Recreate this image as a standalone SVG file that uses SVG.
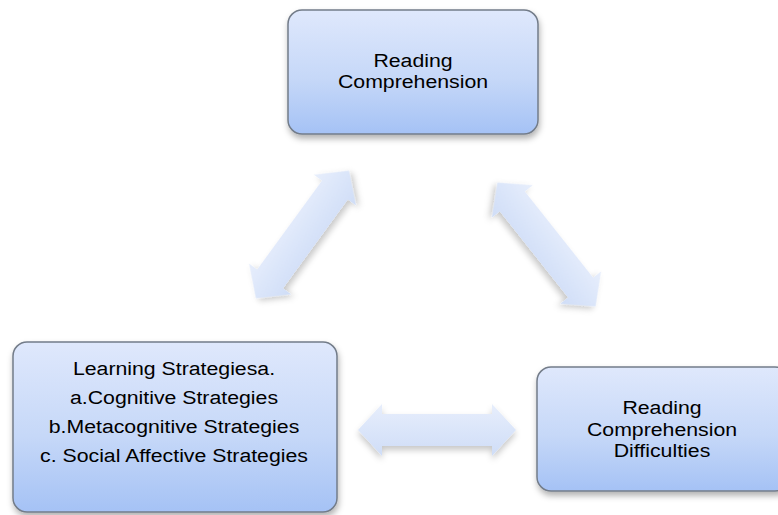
<svg xmlns="http://www.w3.org/2000/svg" width="778" height="515" viewBox="0 0 778 515">
  <defs>
    <linearGradient id="boxFill" x1="0" y1="0" x2="0" y2="1">
      <stop offset="0" stop-color="#dfe8fc"/>
      <stop offset="0.55" stop-color="#c6d8f8"/>
      <stop offset="1" stop-color="#a5c2f5"/>
    </linearGradient>
    <linearGradient id="arrowFill" x1="0" y1="0" x2="0" y2="1">
      <stop offset="0" stop-color="#e7eefc"/>
      <stop offset="1" stop-color="#cfddf7"/>
    </linearGradient>
    <filter id="boxShadow" x="-10%" y="-10%" width="125%" height="130%">
      <feDropShadow dx="1" dy="4" stdDeviation="3" flood-color="#000" flood-opacity="0.3"/>
    </filter>
    <filter id="arrowShadow" x="-20%" y="-30%" width="140%" height="170%">
      <feDropShadow dx="0" dy="4" stdDeviation="3" flood-color="#000" flood-opacity="0.22"/>
    </filter>
    <!-- two-way block arrow, centred on the origin, 158 long -->
    <path id="dblArrow" d="M -79 0 L -55 -26 L -55 -16 L 55 -16 L 55 -26 L 79 0 L 55 26 L 55 16 L -55 16 L -55 26 Z"/>
  </defs>
  <style>
    .box { fill: url(#boxFill); stroke: #737c89; stroke-width: 1.5; filter: url(#boxShadow); }
    .arrow { fill: url(#arrowFill); filter: url(#arrowShadow); }
    .label { font-family: "Liberation Sans", Arial, sans-serif; font-size: 19px; fill: #000; text-anchor: middle; }
  </style>

  <rect width="778" height="515" fill="#ffffff"/>

  <!-- connectors: two-way block arrows -->
  <g id="connectors">
    <use href="#dblArrow" class="arrow" transform="translate(302.5 234.5) rotate(-53.9)"/>
    <use href="#dblArrow" class="arrow" transform="translate(546.5 244.5) rotate(51.6)"/>
    <use href="#dblArrow" class="arrow" transform="translate(437 430)"/>
  </g>

  <!-- labels are set slightly wide (x-scale 1.12) -->
  <g id="reading-comprehension">
    <rect class="box" x="288" y="10" width="250" height="124" rx="14"/>
    <g transform="translate(413 0) scale(1.12 1)">
      <text class="label" x="0" y="67">Reading</text>
      <text class="label" x="0" y="88">Comprehension</text>
    </g>
  </g>

  <g id="learning-strategies">
    <rect class="box" x="13" y="342" width="324" height="170" rx="14"/>
    <g transform="translate(174 0) scale(1.12 1)">
      <text class="label" x="0" y="375">Learning Strategiesa.</text>
      <text class="label" x="0" y="404">a.Cognitive Strategies</text>
      <text class="label" x="0" y="433">b.Metacognitive Strategies</text>
      <text class="label" x="0" y="462">c. Social Affective Strategies</text>
    </g>
  </g>

  <g id="reading-comprehension-difficulties">
    <rect class="box" x="537" y="367" width="252" height="124" rx="14"/>
    <g transform="translate(662 0) scale(1.12 1)">
      <text class="label" x="0" y="414">Reading</text>
      <text class="label" x="0" y="436">Comprehension</text>
      <text class="label" x="0" y="457">Difficulties</text>
    </g>
  </g>
</svg>
